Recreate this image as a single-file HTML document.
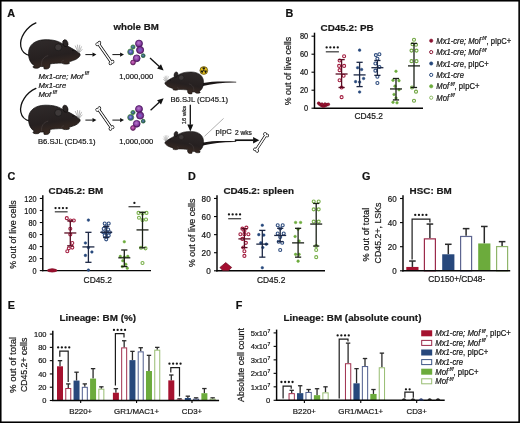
<!DOCTYPE html>
<html><head><meta charset="utf-8"><title>figure</title>
<style>
html,body{margin:0;padding:0;background:#fff;width:520px;height:423px;overflow:hidden;}
svg{display:block;font-family:"Liberation Sans",sans-serif;will-change:transform;}
svg text{stroke:#111;stroke-width:0.2px;}
</style></head>
<body>
<svg width="520" height="423" viewBox="0 0 520 423">
<rect width="520" height="423" fill="#fff"/>
<rect x="0.75" y="0.75" width="518.4" height="421.5" fill="none" stroke="#000" stroke-width="1.6"/>
<text x="7.3" y="16.9" font-size="10.8" text-anchor="start" font-weight="bold" fill="#111">A</text>
<text x="285.6" y="16.7" font-size="10.8" text-anchor="start" font-weight="bold" fill="#111">B</text>
<text x="7.4" y="180.3" font-size="10.8" text-anchor="start" font-weight="bold" fill="#111">C</text>
<text x="188" y="180.3" font-size="10.8" text-anchor="start" font-weight="bold" fill="#111">D</text>
<text x="362" y="180.3" font-size="10.8" text-anchor="start" font-weight="bold" fill="#111">G</text>
<text x="7.7" y="308.5" font-size="10.8" text-anchor="start" font-weight="bold" fill="#111">E</text>
<text x="235.8" y="308.5" font-size="10.8" text-anchor="start" font-weight="bold" fill="#111">F</text>
<text x="320.6" y="30.6" font-size="9.85" text-anchor="start" font-weight="bold" fill="#1a1a1a">CD45.2: PB</text>
<line x1="314.5" y1="108.8" x2="314.5" y2="32.7" stroke="#050505" stroke-width="1.45"/>
<line x1="311.5" y1="108.2" x2="314.5" y2="108.2" stroke="#050505" stroke-width="1.1"/>
<text transform="translate(308.2 111.4) scale(1 1.2)" font-size="7.4" text-anchor="end" fill="#1a1a1a">0</text>
<line x1="311.5" y1="90.2" x2="314.5" y2="90.2" stroke="#050505" stroke-width="1.1"/>
<text transform="translate(308.2 93.4) scale(1 1.2)" font-size="7.4" text-anchor="end" fill="#1a1a1a">20</text>
<line x1="311.5" y1="72.2" x2="314.5" y2="72.2" stroke="#050505" stroke-width="1.1"/>
<text transform="translate(308.2 75.4) scale(1 1.2)" font-size="7.4" text-anchor="end" fill="#1a1a1a">40</text>
<line x1="311.5" y1="54.2" x2="314.5" y2="54.2" stroke="#050505" stroke-width="1.1"/>
<text transform="translate(308.2 57.4) scale(1 1.2)" font-size="7.4" text-anchor="end" fill="#1a1a1a">60</text>
<line x1="311.5" y1="36.2" x2="314.5" y2="36.2" stroke="#050505" stroke-width="1.1"/>
<text transform="translate(308.2 39.4) scale(1 1.2)" font-size="7.4" text-anchor="end" fill="#1a1a1a">80</text>
<line x1="313.8" y1="108.2" x2="423" y2="108.2" stroke="#050505" stroke-width="1.4"/>
<text x="0" y="0" font-size="8.9" text-anchor="middle" fill="#1a1a1a" transform="translate(290.6 71) rotate(-90)">% out of live cells</text>
<text transform="translate(368.7 118.6) scale(1 1.05)" font-size="8.4" text-anchor="middle" fill="#1a1a1a">CD45.2</text>
<line x1="325.8" y1="51.8" x2="338.9" y2="51.8" stroke="#444" stroke-width="1.3"/>
<circle cx="326.65" cy="47.4" r="1.15" fill="#151515"/>
<circle cx="330.35" cy="47.4" r="1.15" fill="#151515"/>
<circle cx="334.05" cy="47.4" r="1.15" fill="#151515"/>
<circle cx="337.75" cy="47.4" r="1.15" fill="#151515"/>
<circle cx="318.7" cy="103.28" r="1.45" fill="#a01432" stroke="#6a0f24" stroke-width="0.5"/>
<circle cx="319.9" cy="104.36" r="1.45" fill="#a01432" stroke="#6a0f24" stroke-width="0.5"/>
<circle cx="321.3" cy="105.26" r="1.45" fill="#a01432" stroke="#6a0f24" stroke-width="0.5"/>
<circle cx="322.7" cy="105.98" r="1.45" fill="#a01432" stroke="#6a0f24" stroke-width="0.5"/>
<circle cx="324.1" cy="105.98" r="1.45" fill="#a01432" stroke="#6a0f24" stroke-width="0.5"/>
<circle cx="325.5" cy="105.44" r="1.45" fill="#a01432" stroke="#6a0f24" stroke-width="0.5"/>
<circle cx="326.9" cy="104.72" r="1.45" fill="#a01432" stroke="#6a0f24" stroke-width="0.5"/>
<circle cx="328.3" cy="104.36" r="1.45" fill="#a01432" stroke="#6a0f24" stroke-width="0.5"/>
<circle cx="322" cy="104.18" r="1.45" fill="#a01432" stroke="#6a0f24" stroke-width="0.5"/>
<circle cx="325" cy="104.09" r="1.45" fill="#a01432" stroke="#6a0f24" stroke-width="0.5"/>
<circle cx="344.1" cy="56.27" r="1.5" fill="#fff" stroke="#a31e40" stroke-width="1.1"/>
<circle cx="339.6" cy="60.5" r="1.5" fill="#fff" stroke="#a31e40" stroke-width="1.1"/>
<circle cx="339.1" cy="65.9" r="1.5" fill="#fff" stroke="#a31e40" stroke-width="1.1"/>
<circle cx="344.1" cy="65.9" r="1.5" fill="#fff" stroke="#a31e40" stroke-width="1.1"/>
<circle cx="339.6" cy="70.13" r="1.5" fill="#fff" stroke="#a31e40" stroke-width="1.1"/>
<circle cx="343.6" cy="75.8" r="1.5" fill="#fff" stroke="#a31e40" stroke-width="1.1"/>
<circle cx="339.6" cy="80.3" r="1.5" fill="#fff" stroke="#a31e40" stroke-width="1.1"/>
<circle cx="341.6" cy="87.5" r="1.5" fill="#fff" stroke="#a31e40" stroke-width="1.1"/>
<circle cx="341.6" cy="97.13" r="1.5" fill="#fff" stroke="#a31e40" stroke-width="1.1"/>
<line x1="341.6" y1="59.6" x2="341.6" y2="87.5" stroke="#5a0c22" stroke-width="1.3"/>
<line x1="338.5" y1="59.6" x2="344.7" y2="59.6" stroke="#5a0c22" stroke-width="1.3"/>
<line x1="338.5" y1="87.5" x2="344.7" y2="87.5" stroke="#5a0c22" stroke-width="1.3"/>
<line x1="335.6" y1="74" x2="347.6" y2="74" stroke="#5a0c22" stroke-width="1.3"/>
<circle cx="359.6" cy="50.15" r="1.3" fill="#27487c" stroke="#27487c" stroke-width="0.5"/>
<circle cx="357.6" cy="67.7" r="1.3" fill="#27487c" stroke="#27487c" stroke-width="0.5"/>
<circle cx="361.6" cy="69.5" r="1.3" fill="#27487c" stroke="#27487c" stroke-width="0.5"/>
<circle cx="363.6" cy="78.5" r="1.3" fill="#27487c" stroke="#27487c" stroke-width="0.5"/>
<circle cx="355.6" cy="81.65" r="1.3" fill="#27487c" stroke="#27487c" stroke-width="0.5"/>
<circle cx="359.6" cy="82.1" r="1.3" fill="#27487c" stroke="#27487c" stroke-width="0.5"/>
<circle cx="359.6" cy="92" r="1.3" fill="#27487c" stroke="#27487c" stroke-width="0.5"/>
<line x1="359.6" y1="62.3" x2="359.6" y2="86.6" stroke="#1c2744" stroke-width="1.3"/>
<line x1="356.5" y1="62.3" x2="362.7" y2="62.3" stroke="#1c2744" stroke-width="1.3"/>
<line x1="356.5" y1="86.6" x2="362.7" y2="86.6" stroke="#1c2744" stroke-width="1.3"/>
<line x1="353.6" y1="74.9" x2="365.6" y2="74.9" stroke="#1c2744" stroke-width="1.3"/>
<circle cx="375.9" cy="55.1" r="1.5" fill="#fff" stroke="#2f4d7f" stroke-width="1.1"/>
<circle cx="379.4" cy="54.2" r="1.5" fill="#fff" stroke="#2f4d7f" stroke-width="1.1"/>
<circle cx="377.4" cy="58.7" r="1.5" fill="#fff" stroke="#2f4d7f" stroke-width="1.1"/>
<circle cx="375.4" cy="63.47" r="1.5" fill="#fff" stroke="#2f4d7f" stroke-width="1.1"/>
<circle cx="379.4" cy="67.07" r="1.5" fill="#fff" stroke="#2f4d7f" stroke-width="1.1"/>
<circle cx="375.4" cy="70.67" r="1.5" fill="#fff" stroke="#2f4d7f" stroke-width="1.1"/>
<circle cx="377.4" cy="76.7" r="1.5" fill="#fff" stroke="#2f4d7f" stroke-width="1.1"/>
<circle cx="377.4" cy="83" r="1.5" fill="#fff" stroke="#2f4d7f" stroke-width="1.1"/>
<line x1="377.4" y1="60.5" x2="377.4" y2="75.35" stroke="#1c2744" stroke-width="1.3"/>
<line x1="374.3" y1="60.5" x2="380.5" y2="60.5" stroke="#1c2744" stroke-width="1.3"/>
<line x1="374.3" y1="75.35" x2="380.5" y2="75.35" stroke="#1c2744" stroke-width="1.3"/>
<line x1="371.4" y1="67.7" x2="383.4" y2="67.7" stroke="#1c2744" stroke-width="1.3"/>
<circle cx="396" cy="71.3" r="1.3" fill="#6cab3c" stroke="#6cab3c" stroke-width="0.5"/>
<circle cx="393" cy="80.3" r="1.3" fill="#6cab3c" stroke="#6cab3c" stroke-width="0.5"/>
<circle cx="399" cy="80.66" r="1.3" fill="#6cab3c" stroke="#6cab3c" stroke-width="0.5"/>
<circle cx="395" cy="86.15" r="1.3" fill="#6cab3c" stroke="#6cab3c" stroke-width="0.5"/>
<circle cx="399" cy="89.75" r="1.3" fill="#6cab3c" stroke="#6cab3c" stroke-width="0.5"/>
<circle cx="394" cy="94.43" r="1.3" fill="#6cab3c" stroke="#6cab3c" stroke-width="0.5"/>
<circle cx="396" cy="98.03" r="1.3" fill="#6cab3c" stroke="#6cab3c" stroke-width="0.5"/>
<circle cx="393" cy="102.26" r="1.3" fill="#6cab3c" stroke="#6cab3c" stroke-width="0.5"/>
<circle cx="397" cy="102.8" r="1.3" fill="#6cab3c" stroke="#6cab3c" stroke-width="0.5"/>
<line x1="396" y1="78.5" x2="396" y2="99.92" stroke="#1a2016" stroke-width="1.3"/>
<line x1="392.9" y1="78.5" x2="399.1" y2="78.5" stroke="#1a2016" stroke-width="1.3"/>
<line x1="392.9" y1="99.92" x2="399.1" y2="99.92" stroke="#1a2016" stroke-width="1.3"/>
<line x1="390" y1="88.94" x2="402" y2="88.94" stroke="#1a2016" stroke-width="1.3"/>
<circle cx="414" cy="39.8" r="1.5" fill="#fff" stroke="#6fa540" stroke-width="1.1"/>
<circle cx="412.5" cy="44.3" r="1.5" fill="#fff" stroke="#6fa540" stroke-width="1.1"/>
<circle cx="416" cy="44.75" r="1.5" fill="#fff" stroke="#6fa540" stroke-width="1.1"/>
<circle cx="411.5" cy="50.6" r="1.5" fill="#fff" stroke="#6fa540" stroke-width="1.1"/>
<circle cx="416.5" cy="50.6" r="1.5" fill="#fff" stroke="#6fa540" stroke-width="1.1"/>
<circle cx="411.5" cy="61.13" r="1.5" fill="#fff" stroke="#6fa540" stroke-width="1.1"/>
<circle cx="416.5" cy="61.13" r="1.5" fill="#fff" stroke="#6fa540" stroke-width="1.1"/>
<circle cx="412" cy="87.5" r="1.5" fill="#fff" stroke="#6fa540" stroke-width="1.1"/>
<circle cx="416" cy="91.64" r="1.5" fill="#fff" stroke="#6fa540" stroke-width="1.1"/>
<circle cx="414" cy="100.82" r="1.5" fill="#fff" stroke="#6fa540" stroke-width="1.1"/>
<line x1="414" y1="43.4" x2="414" y2="87.5" stroke="#1a2016" stroke-width="1.3"/>
<line x1="410.9" y1="43.4" x2="417.1" y2="43.4" stroke="#1a2016" stroke-width="1.3"/>
<line x1="410.9" y1="87.5" x2="417.1" y2="87.5" stroke="#1a2016" stroke-width="1.3"/>
<line x1="408" y1="65.9" x2="420" y2="65.9" stroke="#1a2016" stroke-width="1.3"/>
<circle cx="431.2" cy="40.7" r="1.7" fill="#8a1533" stroke="#8a1533" stroke-width="0.5"/>
<text transform="translate(436.3 43.8) scale(1 1.12)" font-size="7.65" fill="#1a1a1a"><tspan font-style="italic">Mx1-cre; Mof</tspan><tspan font-style="italic" font-size="5" dy="-3.2" dx="1.4">f/f</tspan><tspan dy="3.2">, pIpC+</tspan></text>
<circle cx="431.2" cy="52.1" r="1.6" fill="#fff" stroke="#8a1533" stroke-width="1"/>
<text transform="translate(436.3 55.2) scale(1 1.12)" font-size="7.65" fill="#1a1a1a"><tspan font-style="italic">Mx1-cre; Mof</tspan><tspan font-style="italic" font-size="5" dy="-3.2" dx="1.4">f/f</tspan></text>
<circle cx="431.2" cy="63.5" r="1.7" fill="#27487c" stroke="#27487c" stroke-width="0.5"/>
<text transform="translate(436.3 66.6) scale(1 1.12)" font-size="7.65" fill="#1a1a1a"><tspan font-style="italic">Mx1-cre</tspan>, pIpC+</text>
<circle cx="431.2" cy="74.9" r="1.6" fill="#fff" stroke="#27487c" stroke-width="1"/>
<text transform="translate(436.3 78) scale(1 1.12)" font-size="7.65" fill="#1a1a1a"><tspan font-style="italic">Mx1-cre</tspan></text>
<circle cx="431.2" cy="86.3" r="1.7" fill="#6cab3c" stroke="#6cab3c" stroke-width="0.5"/>
<text transform="translate(436.3 89.4) scale(1 1.12)" font-size="7.65" fill="#1a1a1a"><tspan font-style="italic">Mof</tspan><tspan font-style="italic" font-size="5" dy="-3.2" dx="1.4">f/f</tspan><tspan dy="3.2">, pIpC+</tspan></text>
<circle cx="431.2" cy="97.7" r="1.6" fill="#fff" stroke="#8dbb64" stroke-width="1"/>
<text transform="translate(436.3 100.8) scale(1 1.12)" font-size="7.65" fill="#1a1a1a"><tspan font-style="italic">Mof</tspan><tspan font-style="italic" font-size="5" dy="-3.2" dx="1.4">f/f</tspan></text>
<text x="48.6" y="193.6" font-size="9.85" text-anchor="start" font-weight="bold" fill="#1a1a1a">CD45.2: BM</text>
<line x1="42.8" y1="271.2" x2="42.8" y2="195.2" stroke="#050505" stroke-width="1.45"/>
<line x1="39.8" y1="270.6" x2="42.8" y2="270.6" stroke="#050505" stroke-width="1.1"/>
<text transform="translate(36.5 273.62) scale(1 1.15)" font-size="7.3" text-anchor="end" fill="#1a1a1a">0</text>
<line x1="39.8" y1="258.58" x2="42.8" y2="258.58" stroke="#050505" stroke-width="1.1"/>
<text transform="translate(36.5 261.6) scale(1 1.15)" font-size="7.3" text-anchor="end" fill="#1a1a1a">20</text>
<line x1="39.8" y1="246.56" x2="42.8" y2="246.56" stroke="#050505" stroke-width="1.1"/>
<text transform="translate(36.5 249.58) scale(1 1.15)" font-size="7.3" text-anchor="end" fill="#1a1a1a">40</text>
<line x1="39.8" y1="234.54" x2="42.8" y2="234.54" stroke="#050505" stroke-width="1.1"/>
<text transform="translate(36.5 237.56) scale(1 1.15)" font-size="7.3" text-anchor="end" fill="#1a1a1a">60</text>
<line x1="39.8" y1="222.52" x2="42.8" y2="222.52" stroke="#050505" stroke-width="1.1"/>
<text transform="translate(36.5 225.54) scale(1 1.15)" font-size="7.3" text-anchor="end" fill="#1a1a1a">80</text>
<line x1="39.8" y1="210.5" x2="42.8" y2="210.5" stroke="#050505" stroke-width="1.1"/>
<text transform="translate(36.5 213.52) scale(1 1.15)" font-size="7.3" text-anchor="end" fill="#1a1a1a">100</text>
<line x1="39.8" y1="198.48" x2="42.8" y2="198.48" stroke="#050505" stroke-width="1.1"/>
<text transform="translate(36.5 201.5) scale(1 1.15)" font-size="7.3" text-anchor="end" fill="#1a1a1a">120</text>
<line x1="42.1" y1="270.6" x2="151" y2="270.6" stroke="#050505" stroke-width="1.4"/>
<text x="0" y="0" font-size="8.9" text-anchor="middle" fill="#1a1a1a" transform="translate(15.6 234.5) rotate(-90)">% out of live cells</text>
<text transform="translate(97.8 282.6) scale(1 1.12)" font-size="8.4" text-anchor="middle" fill="#1a1a1a">CD45.2</text>
<line x1="54.8" y1="211.8" x2="67.6" y2="211.8" stroke="#444" stroke-width="1.3"/>
<circle cx="55.55" cy="208.1" r="1.15" fill="#151515"/>
<circle cx="59.25" cy="208.1" r="1.15" fill="#151515"/>
<circle cx="62.95" cy="208.1" r="1.15" fill="#151515"/>
<circle cx="66.65" cy="208.1" r="1.15" fill="#151515"/>
<line x1="128.5" y1="206.7" x2="140.3" y2="206.7" stroke="#444" stroke-width="1.3"/>
<circle cx="134.4" cy="202.9" r="1.15" fill="#151515"/>
<circle cx="48.4" cy="270.4" r="1" fill="#a50f30" stroke="#7a0f26" stroke-width="0.4"/>
<circle cx="49.6" cy="270.4" r="1.4" fill="#a50f30" stroke="#7a0f26" stroke-width="0.4"/>
<circle cx="50.9" cy="270.4" r="1.7" fill="#a50f30" stroke="#7a0f26" stroke-width="0.4"/>
<circle cx="52.2" cy="270.4" r="1.8" fill="#a50f30" stroke="#7a0f26" stroke-width="0.4"/>
<circle cx="53.5" cy="270.4" r="1.7" fill="#a50f30" stroke="#7a0f26" stroke-width="0.4"/>
<circle cx="54.8" cy="270.4" r="1.4" fill="#a50f30" stroke="#7a0f26" stroke-width="0.4"/>
<circle cx="56" cy="270.4" r="1" fill="#a50f30" stroke="#7a0f26" stroke-width="0.4"/>
<circle cx="66.8" cy="218.13" r="1.5" fill="#fff" stroke="#a31e40" stroke-width="1.1"/>
<circle cx="70.3" cy="220.48" r="1.5" fill="#fff" stroke="#a31e40" stroke-width="1.1"/>
<circle cx="73.8" cy="220.48" r="1.5" fill="#fff" stroke="#a31e40" stroke-width="1.1"/>
<circle cx="70.3" cy="228.71" r="1.5" fill="#fff" stroke="#a31e40" stroke-width="1.1"/>
<circle cx="70.3" cy="234.54" r="1.5" fill="#fff" stroke="#a31e40" stroke-width="1.1"/>
<circle cx="72.3" cy="242.95" r="1.5" fill="#fff" stroke="#a31e40" stroke-width="1.1"/>
<circle cx="72.3" cy="247.58" r="1.5" fill="#fff" stroke="#a31e40" stroke-width="1.1"/>
<circle cx="68.8" cy="248.36" r="1.5" fill="#fff" stroke="#a31e40" stroke-width="1.1"/>
<circle cx="67.3" cy="251.19" r="1.5" fill="#fff" stroke="#a31e40" stroke-width="1.1"/>
<line x1="70.3" y1="220.9" x2="70.3" y2="245.78" stroke="#5a0c22" stroke-width="1.3"/>
<line x1="67.2" y1="220.9" x2="73.4" y2="220.9" stroke="#5a0c22" stroke-width="1.3"/>
<line x1="67.2" y1="245.78" x2="73.4" y2="245.78" stroke="#5a0c22" stroke-width="1.3"/>
<line x1="64.3" y1="232.98" x2="76.3" y2="232.98" stroke="#5a0c22" stroke-width="1.3"/>
<circle cx="88.4" cy="220.12" r="1.3" fill="#27487c" stroke="#27487c" stroke-width="0.5"/>
<circle cx="85.4" cy="242.95" r="1.3" fill="#27487c" stroke="#27487c" stroke-width="0.5"/>
<circle cx="88.4" cy="247.58" r="1.3" fill="#27487c" stroke="#27487c" stroke-width="0.5"/>
<circle cx="91.9" cy="251.97" r="1.3" fill="#27487c" stroke="#27487c" stroke-width="0.5"/>
<circle cx="85.4" cy="255.39" r="1.3" fill="#27487c" stroke="#27487c" stroke-width="0.5"/>
<circle cx="88.4" cy="270.12" r="1.3" fill="#27487c" stroke="#27487c" stroke-width="0.5"/>
<line x1="88.4" y1="232.32" x2="88.4" y2="262.31" stroke="#1c2744" stroke-width="1.3"/>
<line x1="85.3" y1="232.32" x2="91.5" y2="232.32" stroke="#1c2744" stroke-width="1.3"/>
<line x1="85.3" y1="262.31" x2="91.5" y2="262.31" stroke="#1c2744" stroke-width="1.3"/>
<line x1="82.4" y1="246.92" x2="94.4" y2="246.92" stroke="#1c2744" stroke-width="1.3"/>
<circle cx="104.7" cy="223.48" r="1.5" fill="#fff" stroke="#2f4d7f" stroke-width="1.1"/>
<circle cx="108.7" cy="223.48" r="1.5" fill="#fff" stroke="#2f4d7f" stroke-width="1.1"/>
<circle cx="106.2" cy="226.43" r="1.5" fill="#fff" stroke="#2f4d7f" stroke-width="1.1"/>
<circle cx="103.7" cy="228.71" r="1.5" fill="#fff" stroke="#2f4d7f" stroke-width="1.1"/>
<circle cx="108.2" cy="229.43" r="1.5" fill="#fff" stroke="#2f4d7f" stroke-width="1.1"/>
<circle cx="103.2" cy="232.32" r="1.5" fill="#fff" stroke="#2f4d7f" stroke-width="1.1"/>
<circle cx="106.2" cy="232.32" r="1.5" fill="#fff" stroke="#2f4d7f" stroke-width="1.1"/>
<circle cx="109.7" cy="232.32" r="1.5" fill="#fff" stroke="#2f4d7f" stroke-width="1.1"/>
<circle cx="104.7" cy="235.38" r="1.5" fill="#fff" stroke="#2f4d7f" stroke-width="1.1"/>
<circle cx="108.7" cy="235.38" r="1.5" fill="#fff" stroke="#2f4d7f" stroke-width="1.1"/>
<circle cx="106.2" cy="239.35" r="1.5" fill="#fff" stroke="#2f4d7f" stroke-width="1.1"/>
<line x1="106.2" y1="226.43" x2="106.2" y2="237.55" stroke="#1c2744" stroke-width="1.3"/>
<line x1="103.1" y1="226.43" x2="109.3" y2="226.43" stroke="#1c2744" stroke-width="1.3"/>
<line x1="103.1" y1="237.55" x2="109.3" y2="237.55" stroke="#1c2744" stroke-width="1.3"/>
<line x1="100.2" y1="232.32" x2="112.2" y2="232.32" stroke="#1c2744" stroke-width="1.3"/>
<circle cx="124.3" cy="241.75" r="1.3" fill="#6cab3c" stroke="#6cab3c" stroke-width="0.5"/>
<circle cx="120.3" cy="256.42" r="1.3" fill="#6cab3c" stroke="#6cab3c" stroke-width="0.5"/>
<circle cx="124.3" cy="257.08" r="1.3" fill="#6cab3c" stroke="#6cab3c" stroke-width="0.5"/>
<circle cx="127.8" cy="256.42" r="1.3" fill="#6cab3c" stroke="#6cab3c" stroke-width="0.5"/>
<circle cx="122.8" cy="260.68" r="1.3" fill="#6cab3c" stroke="#6cab3c" stroke-width="0.5"/>
<circle cx="125.8" cy="264.23" r="1.3" fill="#6cab3c" stroke="#6cab3c" stroke-width="0.5"/>
<circle cx="122.3" cy="266.57" r="1.3" fill="#6cab3c" stroke="#6cab3c" stroke-width="0.5"/>
<circle cx="127.3" cy="268.2" r="1.3" fill="#6cab3c" stroke="#6cab3c" stroke-width="0.5"/>
<line x1="124.3" y1="249.99" x2="124.3" y2="266.57" stroke="#1a2016" stroke-width="1.3"/>
<line x1="121.2" y1="249.99" x2="127.4" y2="249.99" stroke="#1a2016" stroke-width="1.3"/>
<line x1="121.2" y1="266.57" x2="127.4" y2="266.57" stroke="#1a2016" stroke-width="1.3"/>
<line x1="118.3" y1="257.8" x2="130.3" y2="257.8" stroke="#1a2016" stroke-width="1.3"/>
<circle cx="138.5" cy="212.9" r="1.5" fill="#fff" stroke="#79b04a" stroke-width="1.1"/>
<circle cx="142.5" cy="213.51" r="1.5" fill="#fff" stroke="#79b04a" stroke-width="1.1"/>
<circle cx="146.5" cy="212.9" r="1.5" fill="#fff" stroke="#79b04a" stroke-width="1.1"/>
<circle cx="139" cy="217.71" r="1.5" fill="#fff" stroke="#79b04a" stroke-width="1.1"/>
<circle cx="142.5" cy="220.12" r="1.5" fill="#fff" stroke="#79b04a" stroke-width="1.1"/>
<circle cx="146" cy="219.52" r="1.5" fill="#fff" stroke="#79b04a" stroke-width="1.1"/>
<circle cx="141" cy="247.76" r="1.5" fill="#fff" stroke="#79b04a" stroke-width="1.1"/>
<circle cx="145.5" cy="248.36" r="1.5" fill="#fff" stroke="#79b04a" stroke-width="1.1"/>
<circle cx="142.5" cy="263.03" r="1.5" fill="#fff" stroke="#79b04a" stroke-width="1.1"/>
<line x1="142.5" y1="212.3" x2="142.5" y2="247.76" stroke="#1a2016" stroke-width="1.3"/>
<line x1="139.4" y1="212.3" x2="145.6" y2="212.3" stroke="#1a2016" stroke-width="1.3"/>
<line x1="139.4" y1="247.76" x2="145.6" y2="247.76" stroke="#1a2016" stroke-width="1.3"/>
<line x1="136.5" y1="229.91" x2="148.5" y2="229.91" stroke="#1a2016" stroke-width="1.3"/>
<text x="223.4" y="193.6" font-size="9.85" text-anchor="start" font-weight="bold" fill="#1a1a1a">CD45.2: spleen</text>
<line x1="217" y1="271.4" x2="217" y2="195.2" stroke="#050505" stroke-width="1.45"/>
<line x1="214" y1="270.8" x2="217" y2="270.8" stroke="#050505" stroke-width="1.1"/>
<text transform="translate(210.7 274.19) scale(1 1.15)" font-size="8.2" text-anchor="end" fill="#1a1a1a">0</text>
<line x1="214" y1="252.72" x2="217" y2="252.72" stroke="#050505" stroke-width="1.1"/>
<text transform="translate(210.7 256.11) scale(1 1.15)" font-size="8.2" text-anchor="end" fill="#1a1a1a">20</text>
<line x1="214" y1="234.64" x2="217" y2="234.64" stroke="#050505" stroke-width="1.1"/>
<text transform="translate(210.7 238.03) scale(1 1.15)" font-size="8.2" text-anchor="end" fill="#1a1a1a">40</text>
<line x1="214" y1="216.56" x2="217" y2="216.56" stroke="#050505" stroke-width="1.1"/>
<text transform="translate(210.7 219.95) scale(1 1.15)" font-size="8.2" text-anchor="end" fill="#1a1a1a">60</text>
<line x1="214" y1="198.48" x2="217" y2="198.48" stroke="#050505" stroke-width="1.1"/>
<text transform="translate(210.7 201.87) scale(1 1.15)" font-size="8.2" text-anchor="end" fill="#1a1a1a">80</text>
<line x1="216.3" y1="270.8" x2="325" y2="270.8" stroke="#050505" stroke-width="1.4"/>
<text x="0" y="0" font-size="8.9" text-anchor="middle" fill="#1a1a1a" transform="translate(194.6 232.8) rotate(-90)">% out of live cells</text>
<text transform="translate(271.1 282.6) scale(1 1.12)" font-size="8.4" text-anchor="middle" fill="#1a1a1a">CD45.2</text>
<line x1="228.2" y1="218.7" x2="241.1" y2="218.7" stroke="#444" stroke-width="1.3"/>
<circle cx="228.95" cy="214.4" r="1.15" fill="#151515"/>
<circle cx="232.65" cy="214.4" r="1.15" fill="#151515"/>
<circle cx="236.35" cy="214.4" r="1.15" fill="#151515"/>
<circle cx="240.05" cy="214.4" r="1.15" fill="#151515"/>
<path d="M225.7,262.6 L231.7,267.4 L228.6,270.6 L222.8,270.6 L219.9,267.5 Z" fill="#a50f30" stroke="#6a0f24" stroke-width="0.7" stroke-linejoin="round"/>
<circle cx="242.4" cy="228.67" r="1.5" fill="#fff" stroke="#a31e40" stroke-width="1.1"/>
<circle cx="246.4" cy="227.59" r="1.5" fill="#fff" stroke="#a31e40" stroke-width="1.1"/>
<circle cx="244.4" cy="231.11" r="1.5" fill="#fff" stroke="#a31e40" stroke-width="1.1"/>
<circle cx="240.4" cy="234.19" r="1.5" fill="#fff" stroke="#a31e40" stroke-width="1.1"/>
<circle cx="244.4" cy="234.19" r="1.5" fill="#fff" stroke="#a31e40" stroke-width="1.1"/>
<circle cx="248.4" cy="234.19" r="1.5" fill="#fff" stroke="#a31e40" stroke-width="1.1"/>
<circle cx="242.4" cy="238.89" r="1.5" fill="#fff" stroke="#a31e40" stroke-width="1.1"/>
<circle cx="245.9" cy="242.87" r="1.5" fill="#fff" stroke="#a31e40" stroke-width="1.1"/>
<circle cx="243.4" cy="247.57" r="1.5" fill="#fff" stroke="#a31e40" stroke-width="1.1"/>
<circle cx="244.4" cy="251.18" r="1.5" fill="#fff" stroke="#a31e40" stroke-width="1.1"/>
<circle cx="244.4" cy="255.88" r="1.5" fill="#fff" stroke="#a31e40" stroke-width="1.1"/>
<line x1="244.4" y1="228.67" x2="244.4" y2="247.57" stroke="#5a0c22" stroke-width="1.3"/>
<line x1="241.3" y1="228.67" x2="247.5" y2="228.67" stroke="#5a0c22" stroke-width="1.3"/>
<line x1="241.3" y1="247.57" x2="247.5" y2="247.57" stroke="#5a0c22" stroke-width="1.3"/>
<line x1="238.4" y1="238.89" x2="250.4" y2="238.89" stroke="#5a0c22" stroke-width="1.3"/>
<circle cx="262.3" cy="225.24" r="1.3" fill="#27487c" stroke="#27487c" stroke-width="0.5"/>
<circle cx="258.8" cy="234.64" r="1.3" fill="#27487c" stroke="#27487c" stroke-width="0.5"/>
<circle cx="263.8" cy="235.09" r="1.3" fill="#27487c" stroke="#27487c" stroke-width="0.5"/>
<circle cx="260.8" cy="242.87" r="1.3" fill="#27487c" stroke="#27487c" stroke-width="0.5"/>
<circle cx="266.3" cy="244.13" r="1.3" fill="#27487c" stroke="#27487c" stroke-width="0.5"/>
<circle cx="262.8" cy="247.57" r="1.3" fill="#27487c" stroke="#27487c" stroke-width="0.5"/>
<circle cx="262.3" cy="267.73" r="1.3" fill="#27487c" stroke="#27487c" stroke-width="0.5"/>
<line x1="262.3" y1="230.39" x2="262.3" y2="257.15" stroke="#1c2744" stroke-width="1.3"/>
<line x1="259.2" y1="230.39" x2="265.4" y2="230.39" stroke="#1c2744" stroke-width="1.3"/>
<line x1="259.2" y1="257.15" x2="265.4" y2="257.15" stroke="#1c2744" stroke-width="1.3"/>
<line x1="256.3" y1="244.13" x2="268.3" y2="244.13" stroke="#1c2744" stroke-width="1.3"/>
<circle cx="277.7" cy="225.24" r="1.5" fill="#fff" stroke="#2f4d7f" stroke-width="1.1"/>
<circle cx="282.7" cy="225.24" r="1.5" fill="#fff" stroke="#2f4d7f" stroke-width="1.1"/>
<circle cx="280.2" cy="228.49" r="1.5" fill="#fff" stroke="#2f4d7f" stroke-width="1.1"/>
<circle cx="277.7" cy="233.46" r="1.5" fill="#fff" stroke="#2f4d7f" stroke-width="1.1"/>
<circle cx="283.7" cy="233.46" r="1.5" fill="#fff" stroke="#2f4d7f" stroke-width="1.1"/>
<circle cx="280.2" cy="236.99" r="1.5" fill="#fff" stroke="#2f4d7f" stroke-width="1.1"/>
<circle cx="278.7" cy="241.69" r="1.5" fill="#fff" stroke="#2f4d7f" stroke-width="1.1"/>
<circle cx="282.2" cy="242.78" r="1.5" fill="#fff" stroke="#2f4d7f" stroke-width="1.1"/>
<circle cx="280.2" cy="250.01" r="1.5" fill="#fff" stroke="#2f4d7f" stroke-width="1.1"/>
<line x1="280.2" y1="228.31" x2="280.2" y2="241.69" stroke="#1c2744" stroke-width="1.3"/>
<line x1="277.1" y1="228.31" x2="283.3" y2="228.31" stroke="#1c2744" stroke-width="1.3"/>
<line x1="277.1" y1="241.69" x2="283.3" y2="241.69" stroke="#1c2744" stroke-width="1.3"/>
<line x1="274.2" y1="235.45" x2="286.2" y2="235.45" stroke="#1c2744" stroke-width="1.3"/>
<circle cx="295.6" cy="222.44" r="1.3" fill="#6cab3c" stroke="#6cab3c" stroke-width="0.5"/>
<circle cx="300.6" cy="222.44" r="1.3" fill="#6cab3c" stroke="#6cab3c" stroke-width="0.5"/>
<circle cx="298.1" cy="229.22" r="1.3" fill="#6cab3c" stroke="#6cab3c" stroke-width="0.5"/>
<circle cx="295.1" cy="236.45" r="1.3" fill="#6cab3c" stroke="#6cab3c" stroke-width="0.5"/>
<circle cx="299.1" cy="240.97" r="1.3" fill="#6cab3c" stroke="#6cab3c" stroke-width="0.5"/>
<circle cx="295.6" cy="254.35" r="1.3" fill="#6cab3c" stroke="#6cab3c" stroke-width="0.5"/>
<circle cx="299.1" cy="254.35" r="1.3" fill="#6cab3c" stroke="#6cab3c" stroke-width="0.5"/>
<circle cx="298.1" cy="261.13" r="1.3" fill="#6cab3c" stroke="#6cab3c" stroke-width="0.5"/>
<line x1="298.1" y1="228.31" x2="298.1" y2="257.15" stroke="#1a2016" stroke-width="1.3"/>
<line x1="295" y1="228.31" x2="301.2" y2="228.31" stroke="#1a2016" stroke-width="1.3"/>
<line x1="295" y1="257.15" x2="301.2" y2="257.15" stroke="#1a2016" stroke-width="1.3"/>
<line x1="292.1" y1="242.87" x2="304.1" y2="242.87" stroke="#1a2016" stroke-width="1.3"/>
<circle cx="313.7" cy="201.55" r="1.5" fill="#fff" stroke="#79b04a" stroke-width="1.1"/>
<circle cx="318.7" cy="201.55" r="1.5" fill="#fff" stroke="#79b04a" stroke-width="1.1"/>
<circle cx="313.7" cy="209.33" r="1.5" fill="#fff" stroke="#79b04a" stroke-width="1.1"/>
<circle cx="318.7" cy="209.33" r="1.5" fill="#fff" stroke="#79b04a" stroke-width="1.1"/>
<circle cx="313.7" cy="221.62" r="1.5" fill="#fff" stroke="#79b04a" stroke-width="1.1"/>
<circle cx="318.7" cy="221.62" r="1.5" fill="#fff" stroke="#79b04a" stroke-width="1.1"/>
<circle cx="316.2" cy="246.03" r="1.5" fill="#fff" stroke="#79b04a" stroke-width="1.1"/>
<circle cx="316.2" cy="250.01" r="1.5" fill="#fff" stroke="#79b04a" stroke-width="1.1"/>
<circle cx="316.2" cy="257.15" r="1.5" fill="#fff" stroke="#79b04a" stroke-width="1.1"/>
<line x1="316.2" y1="203.45" x2="316.2" y2="246.03" stroke="#1a2016" stroke-width="1.3"/>
<line x1="313.1" y1="203.45" x2="319.3" y2="203.45" stroke="#1a2016" stroke-width="1.3"/>
<line x1="313.1" y1="246.03" x2="319.3" y2="246.03" stroke="#1a2016" stroke-width="1.3"/>
<line x1="310.2" y1="224.06" x2="322.2" y2="224.06" stroke="#1a2016" stroke-width="1.3"/>
<text x="409.6" y="194" font-size="9.85" text-anchor="start" font-weight="bold" fill="#1a1a1a">HSC: BM</text>
<line x1="403" y1="271.4" x2="403" y2="195.2" stroke="#050505" stroke-width="1.45"/>
<line x1="400" y1="270.8" x2="403" y2="270.8" stroke="#050505" stroke-width="1.1"/>
<text transform="translate(396.7 274.11) scale(1 1.15)" font-size="8" text-anchor="end" fill="#1a1a1a">0</text>
<line x1="400" y1="246.7" x2="403" y2="246.7" stroke="#050505" stroke-width="1.1"/>
<text transform="translate(396.7 250.01) scale(1 1.15)" font-size="8" text-anchor="end" fill="#1a1a1a">20</text>
<line x1="400" y1="222.6" x2="403" y2="222.6" stroke="#050505" stroke-width="1.1"/>
<text transform="translate(396.7 225.91) scale(1 1.15)" font-size="8" text-anchor="end" fill="#1a1a1a">40</text>
<line x1="400" y1="198.5" x2="403" y2="198.5" stroke="#050505" stroke-width="1.1"/>
<text transform="translate(396.7 201.81) scale(1 1.15)" font-size="8" text-anchor="end" fill="#1a1a1a">60</text>
<text x="0" y="0" font-size="9.2" text-anchor="middle" fill="#1a1a1a" transform="translate(369.3 234.6) rotate(-90)">% out of total</text>
<text x="0" y="0" font-size="8.8" text-anchor="middle" fill="#1a1a1a" transform="translate(380.6 233) rotate(-90)">CD45.2+, LSKs</text>
<text transform="translate(456.8 282.3) scale(1 1.18)" font-size="8.3" text-anchor="middle" fill="#1a1a1a">CD150+/CD48-</text>
<line x1="412.4" y1="266.94" x2="412.4" y2="261.04" stroke="#2a2a2a" stroke-width="1.5"/>
<line x1="409.1" y1="261.04" x2="415.7" y2="261.04" stroke="#2a2a2a" stroke-width="1.5"/>
<rect x="406.3" y="266.94" width="12.2" height="3.86" fill="#a5122f"/>
<line x1="429.9" y1="238.27" x2="429.9" y2="224.05" stroke="#2a2a2a" stroke-width="1.5"/>
<line x1="426.6" y1="224.05" x2="433.2" y2="224.05" stroke="#2a2a2a" stroke-width="1.5"/>
<rect x="424.4" y="238.87" width="11" height="31.93" fill="#fff" stroke="#9b2a4a" stroke-width="1.2"/>
<line x1="448.3" y1="254.29" x2="448.3" y2="244.29" stroke="#2a2a2a" stroke-width="1.5"/>
<line x1="445" y1="244.29" x2="451.6" y2="244.29" stroke="#2a2a2a" stroke-width="1.5"/>
<rect x="442.2" y="254.29" width="12.2" height="16.51" fill="#27487c"/>
<line x1="466.1" y1="235.86" x2="466.1" y2="228.62" stroke="#2a2a2a" stroke-width="1.5"/>
<line x1="462.8" y1="228.62" x2="469.4" y2="228.62" stroke="#2a2a2a" stroke-width="1.5"/>
<rect x="460.6" y="236.46" width="11" height="34.34" fill="#fff" stroke="#5d6590" stroke-width="1.2"/>
<line x1="484.3" y1="243.45" x2="484.3" y2="226.46" stroke="#2a2a2a" stroke-width="1.5"/>
<line x1="481" y1="226.46" x2="487.6" y2="226.46" stroke="#2a2a2a" stroke-width="1.5"/>
<rect x="478.2" y="243.45" width="12.2" height="27.35" fill="#6cab3c"/>
<line x1="502.1" y1="245.98" x2="502.1" y2="241.64" stroke="#2a2a2a" stroke-width="1.5"/>
<line x1="498.8" y1="241.64" x2="505.4" y2="241.64" stroke="#2a2a2a" stroke-width="1.5"/>
<rect x="496.6" y="246.58" width="11" height="24.22" fill="#fff" stroke="#8fb56a" stroke-width="1.2"/>
<line x1="402.3" y1="270.8" x2="510.2" y2="270.8" stroke="#050505" stroke-width="1.4"/>
<polyline points="412.1,259.5 412.1,219.1 429.9,219.1 429.9,222.4" fill="none" stroke="#1c1c1c" stroke-width="1.2"/>
<circle cx="415.25" cy="214.9" r="1.15" fill="#151515"/>
<circle cx="418.95" cy="214.9" r="1.15" fill="#151515"/>
<circle cx="422.65" cy="214.9" r="1.15" fill="#151515"/>
<circle cx="426.35" cy="214.9" r="1.15" fill="#151515"/>
<text x="59.4" y="321.4" font-size="9.85" text-anchor="start" font-weight="bold" fill="#1a1a1a">Lineage: BM (%)</text>
<line x1="52.8" y1="401.1" x2="52.8" y2="330.8" stroke="#050505" stroke-width="1.45"/>
<line x1="49.8" y1="400.5" x2="52.8" y2="400.5" stroke="#050505" stroke-width="1.1"/>
<text transform="translate(46.5 403.33) scale(1 1.05)" font-size="7.5" text-anchor="end" fill="#1a1a1a">0</text>
<line x1="49.8" y1="387.22" x2="52.8" y2="387.22" stroke="#050505" stroke-width="1.1"/>
<text transform="translate(46.5 390.06) scale(1 1.05)" font-size="7.5" text-anchor="end" fill="#1a1a1a">20</text>
<line x1="49.8" y1="373.94" x2="52.8" y2="373.94" stroke="#050505" stroke-width="1.1"/>
<text transform="translate(46.5 376.77) scale(1 1.05)" font-size="7.5" text-anchor="end" fill="#1a1a1a">40</text>
<line x1="49.8" y1="360.66" x2="52.8" y2="360.66" stroke="#050505" stroke-width="1.1"/>
<text transform="translate(46.5 363.49) scale(1 1.05)" font-size="7.5" text-anchor="end" fill="#1a1a1a">60</text>
<line x1="49.8" y1="347.38" x2="52.8" y2="347.38" stroke="#050505" stroke-width="1.1"/>
<text transform="translate(46.5 350.21) scale(1 1.05)" font-size="7.5" text-anchor="end" fill="#1a1a1a">80</text>
<line x1="49.8" y1="334.1" x2="52.8" y2="334.1" stroke="#050505" stroke-width="1.1"/>
<text transform="translate(46.5 336.94) scale(1 1.05)" font-size="7.5" text-anchor="end" fill="#1a1a1a">100</text>
<text x="0" y="0" font-size="9.6" text-anchor="middle" fill="#1a1a1a" transform="translate(15.9 364.9) rotate(-90)">% out of total</text>
<text x="0" y="0" font-size="8.7" text-anchor="middle" fill="#1a1a1a" transform="translate(26.5 364.9) rotate(-90)">CD45.2+ cells</text>
<line x1="60" y1="366.3" x2="60" y2="360.66" stroke="#2a2a2a" stroke-width="1.3"/>
<line x1="57.8" y1="360.66" x2="62.2" y2="360.66" stroke="#2a2a2a" stroke-width="1.3"/>
<rect x="57" y="366.3" width="6" height="34.2" fill="#a5122f"/>
<line x1="68.27" y1="388.02" x2="68.27" y2="383.9" stroke="#2a2a2a" stroke-width="1.3"/>
<line x1="66.07" y1="383.9" x2="70.47" y2="383.9" stroke="#2a2a2a" stroke-width="1.3"/>
<rect x="65.77" y="388.52" width="5" height="11.98" fill="#fff" stroke="#a0304e" stroke-width="1"/>
<line x1="76.54" y1="380.58" x2="76.54" y2="372.21" stroke="#2a2a2a" stroke-width="1.3"/>
<line x1="74.34" y1="372.21" x2="78.74" y2="372.21" stroke="#2a2a2a" stroke-width="1.3"/>
<rect x="73.54" y="380.58" width="6" height="19.92" fill="#27487c"/>
<line x1="84.81" y1="386.82" x2="84.81" y2="383.9" stroke="#2a2a2a" stroke-width="1.3"/>
<line x1="82.61" y1="383.9" x2="87.01" y2="383.9" stroke="#2a2a2a" stroke-width="1.3"/>
<rect x="82.31" y="387.32" width="5" height="13.18" fill="#fff" stroke="#4f5d8e" stroke-width="1"/>
<line x1="93.08" y1="378.59" x2="93.08" y2="368.63" stroke="#2a2a2a" stroke-width="1.3"/>
<line x1="90.88" y1="368.63" x2="95.28" y2="368.63" stroke="#2a2a2a" stroke-width="1.3"/>
<rect x="90.08" y="378.59" width="6" height="21.91" fill="#6cab3c"/>
<line x1="101.35" y1="388.68" x2="101.35" y2="386.82" stroke="#2a2a2a" stroke-width="1.3"/>
<line x1="99.15" y1="386.82" x2="103.55" y2="386.82" stroke="#2a2a2a" stroke-width="1.3"/>
<rect x="98.85" y="389.18" width="5" height="11.32" fill="#fff" stroke="#98bd72" stroke-width="1"/>
<line x1="80.67" y1="400.5" x2="80.67" y2="403.1" stroke="#050505" stroke-width="1.1"/>
<line x1="115.9" y1="392.73" x2="115.9" y2="388.68" stroke="#2a2a2a" stroke-width="1.3"/>
<line x1="113.7" y1="388.68" x2="118.1" y2="388.68" stroke="#2a2a2a" stroke-width="1.3"/>
<rect x="112.9" y="392.73" width="6" height="7.77" fill="#a5122f"/>
<line x1="124.17" y1="347.38" x2="124.17" y2="340.74" stroke="#2a2a2a" stroke-width="1.3"/>
<line x1="121.97" y1="340.74" x2="126.37" y2="340.74" stroke="#2a2a2a" stroke-width="1.3"/>
<rect x="121.67" y="347.88" width="5" height="52.62" fill="#fff" stroke="#a0304e" stroke-width="1"/>
<line x1="132.44" y1="360.13" x2="132.44" y2="351.36" stroke="#2a2a2a" stroke-width="1.3"/>
<line x1="130.24" y1="351.36" x2="134.64" y2="351.36" stroke="#2a2a2a" stroke-width="1.3"/>
<rect x="129.44" y="360.13" width="6" height="40.37" fill="#27487c"/>
<line x1="140.71" y1="351.36" x2="140.71" y2="347.71" stroke="#2a2a2a" stroke-width="1.3"/>
<line x1="138.51" y1="347.71" x2="142.91" y2="347.71" stroke="#2a2a2a" stroke-width="1.3"/>
<rect x="138.21" y="351.86" width="5" height="48.64" fill="#fff" stroke="#4f5d8e" stroke-width="1"/>
<line x1="148.98" y1="371.02" x2="148.98" y2="355.35" stroke="#2a2a2a" stroke-width="1.3"/>
<line x1="146.78" y1="355.35" x2="151.18" y2="355.35" stroke="#2a2a2a" stroke-width="1.3"/>
<rect x="145.98" y="371.02" width="6" height="29.48" fill="#6cab3c"/>
<line x1="157.25" y1="349.7" x2="157.25" y2="347.38" stroke="#2a2a2a" stroke-width="1.3"/>
<line x1="155.05" y1="347.38" x2="159.45" y2="347.38" stroke="#2a2a2a" stroke-width="1.3"/>
<rect x="154.75" y="350.2" width="5" height="50.3" fill="#fff" stroke="#98bd72" stroke-width="1"/>
<line x1="136.57" y1="400.5" x2="136.57" y2="403.1" stroke="#050505" stroke-width="1.1"/>
<line x1="171.3" y1="380.38" x2="171.3" y2="375" stroke="#2a2a2a" stroke-width="1.3"/>
<line x1="169.1" y1="375" x2="173.5" y2="375" stroke="#2a2a2a" stroke-width="1.3"/>
<rect x="168.3" y="380.38" width="6" height="20.12" fill="#a5122f"/>
<line x1="179.57" y1="399.5" x2="179.57" y2="398.84" stroke="#2a2a2a" stroke-width="1.3"/>
<line x1="177.37" y1="398.84" x2="181.77" y2="398.84" stroke="#2a2a2a" stroke-width="1.3"/>
<rect x="177.07" y="400" width="5" height="0.5" fill="#fff" stroke="#a0304e" stroke-width="1"/>
<line x1="187.84" y1="397.98" x2="187.84" y2="396.18" stroke="#2a2a2a" stroke-width="1.3"/>
<line x1="185.64" y1="396.18" x2="190.04" y2="396.18" stroke="#2a2a2a" stroke-width="1.3"/>
<rect x="184.84" y="397.98" width="6" height="2.52" fill="#27487c"/>
<line x1="196.11" y1="398.71" x2="196.11" y2="397.84" stroke="#2a2a2a" stroke-width="1.3"/>
<line x1="193.91" y1="397.84" x2="198.31" y2="397.84" stroke="#2a2a2a" stroke-width="1.3"/>
<rect x="193.61" y="399.21" width="5" height="1.29" fill="#fff" stroke="#4f5d8e" stroke-width="1"/>
<line x1="204.38" y1="393.2" x2="204.38" y2="388.55" stroke="#2a2a2a" stroke-width="1.3"/>
<line x1="202.18" y1="388.55" x2="206.58" y2="388.55" stroke="#2a2a2a" stroke-width="1.3"/>
<rect x="201.38" y="393.2" width="6" height="7.3" fill="#6cab3c"/>
<line x1="212.65" y1="398.71" x2="212.65" y2="397.84" stroke="#2a2a2a" stroke-width="1.3"/>
<line x1="210.45" y1="397.84" x2="214.85" y2="397.84" stroke="#2a2a2a" stroke-width="1.3"/>
<rect x="210.15" y="399.21" width="5" height="1.29" fill="#fff" stroke="#98bd72" stroke-width="1"/>
<line x1="191.98" y1="400.5" x2="191.98" y2="403.1" stroke="#050505" stroke-width="1.1"/>
<text x="80.67" y="413.7" font-size="7.9" text-anchor="middle" fill="#1a1a1a">B220+</text>
<text x="136.57" y="413.7" font-size="7.9" text-anchor="middle" fill="#1a1a1a">GR1/MAC1+</text>
<text x="191.98" y="413.7" font-size="7.9" text-anchor="middle" fill="#1a1a1a">CD3+</text>
<line x1="52.1" y1="400.5" x2="219.1" y2="400.5" stroke="#050505" stroke-width="1.4"/>
<polyline points="59.8,356.7 59.8,351.2 68.2,351.2 68.2,382" fill="none" stroke="#1c1c1c" stroke-width="1.2"/>
<circle cx="58.15" cy="347.4" r="1.15" fill="#151515"/>
<circle cx="61.85" cy="347.4" r="1.15" fill="#151515"/>
<circle cx="65.55" cy="347.4" r="1.15" fill="#151515"/>
<circle cx="69.25" cy="347.4" r="1.15" fill="#151515"/>
<polyline points="115.4,385.5 115.4,333.7 124,333.7 124,337.5" fill="none" stroke="#1c1c1c" stroke-width="1.2"/>
<circle cx="113.95" cy="329.9" r="1.15" fill="#151515"/>
<circle cx="117.65" cy="329.9" r="1.15" fill="#151515"/>
<circle cx="121.35" cy="329.9" r="1.15" fill="#151515"/>
<circle cx="125.05" cy="329.9" r="1.15" fill="#151515"/>
<polyline points="170.8,372.4 170.8,367.6 179.5,367.6 179.5,396.5" fill="none" stroke="#1c1c1c" stroke-width="1.2"/>
<circle cx="169.45" cy="363.7" r="1.15" fill="#151515"/>
<circle cx="173.15" cy="363.7" r="1.15" fill="#151515"/>
<circle cx="176.85" cy="363.7" r="1.15" fill="#151515"/>
<circle cx="180.55" cy="363.7" r="1.15" fill="#151515"/>
<text x="283.6" y="321.4" font-size="9.85" text-anchor="start" font-weight="bold" fill="#1a1a1a">Lineage: BM (absolute count)</text>
<line x1="276.6" y1="400.9" x2="276.6" y2="329.6" stroke="#050505" stroke-width="1.45"/>
<line x1="273.6" y1="400.3" x2="276.6" y2="400.3" stroke="#050505" stroke-width="1.1"/>
<text x="270.3" y="403.04" font-size="7.6" text-anchor="end" fill="#1a1a1a">0</text>
<line x1="273.6" y1="386.82" x2="276.6" y2="386.82" stroke="#050505" stroke-width="1.1"/>
<text transform="translate(270.3 389.56) scale(1 1)" font-size="7.6" text-anchor="end" fill="#1a1a1a">1x10<tspan dy="-2.8" font-size="5" dx="0.3">7</tspan></text>
<line x1="273.6" y1="373.34" x2="276.6" y2="373.34" stroke="#050505" stroke-width="1.1"/>
<text transform="translate(270.3 376.08) scale(1 1)" font-size="7.6" text-anchor="end" fill="#1a1a1a">2x10<tspan dy="-2.8" font-size="5" dx="0.3">7</tspan></text>
<line x1="273.6" y1="359.86" x2="276.6" y2="359.86" stroke="#050505" stroke-width="1.1"/>
<text transform="translate(270.3 362.6) scale(1 1)" font-size="7.6" text-anchor="end" fill="#1a1a1a">3x10<tspan dy="-2.8" font-size="5" dx="0.3">7</tspan></text>
<line x1="273.6" y1="346.38" x2="276.6" y2="346.38" stroke="#050505" stroke-width="1.1"/>
<text transform="translate(270.3 349.12) scale(1 1)" font-size="7.6" text-anchor="end" fill="#1a1a1a">4x10<tspan dy="-2.8" font-size="5" dx="0.3">7</tspan></text>
<line x1="273.6" y1="332.9" x2="276.6" y2="332.9" stroke="#050505" stroke-width="1.1"/>
<text transform="translate(270.3 335.64) scale(1 1)" font-size="7.6" text-anchor="end" fill="#1a1a1a">5x10<tspan dy="-2.8" font-size="5" dx="0.3">7</tspan></text>
<text x="0" y="0" font-size="8.8" text-anchor="middle" fill="#1a1a1a" transform="translate(243.5 365) rotate(-90)">Absolute cell count</text>
<line x1="291.7" y1="393.16" x2="291.7" y2="390.32" stroke="#2a2a2a" stroke-width="1.3"/>
<line x1="289.5" y1="390.32" x2="293.9" y2="390.32" stroke="#2a2a2a" stroke-width="1.3"/>
<rect x="289.05" y="393.66" width="5.3" height="6.64" fill="#fff" stroke="#a0304e" stroke-width="1"/>
<line x1="300.15" y1="393.16" x2="300.15" y2="385.74" stroke="#2a2a2a" stroke-width="1.3"/>
<line x1="297.95" y1="385.74" x2="302.35" y2="385.74" stroke="#2a2a2a" stroke-width="1.3"/>
<rect x="297" y="393.16" width="6.3" height="7.14" fill="#27487c"/>
<line x1="308.6" y1="391.94" x2="308.6" y2="389.52" stroke="#2a2a2a" stroke-width="1.3"/>
<line x1="306.4" y1="389.52" x2="310.8" y2="389.52" stroke="#2a2a2a" stroke-width="1.3"/>
<rect x="305.95" y="392.44" width="5.3" height="7.86" fill="#fff" stroke="#4f5d8e" stroke-width="1"/>
<line x1="317.05" y1="395.18" x2="317.05" y2="388.71" stroke="#2a2a2a" stroke-width="1.3"/>
<line x1="314.85" y1="388.71" x2="319.25" y2="388.71" stroke="#2a2a2a" stroke-width="1.3"/>
<rect x="313.9" y="395.18" width="6.3" height="5.12" fill="#6cab3c"/>
<line x1="325.5" y1="392.35" x2="325.5" y2="386.82" stroke="#2a2a2a" stroke-width="1.3"/>
<line x1="323.3" y1="386.82" x2="327.7" y2="386.82" stroke="#2a2a2a" stroke-width="1.3"/>
<rect x="322.85" y="392.85" width="5.3" height="7.45" fill="#fff" stroke="#98bd72" stroke-width="1"/>
<line x1="304.38" y1="400.3" x2="304.38" y2="402.9" stroke="#050505" stroke-width="1.1"/>
<line x1="348.1" y1="363.23" x2="348.1" y2="343.14" stroke="#2a2a2a" stroke-width="1.3"/>
<line x1="345.9" y1="343.14" x2="350.3" y2="343.14" stroke="#2a2a2a" stroke-width="1.3"/>
<rect x="345.45" y="363.73" width="5.3" height="36.57" fill="#fff" stroke="#a0304e" stroke-width="1"/>
<line x1="356.55" y1="383.32" x2="356.55" y2="368.62" stroke="#2a2a2a" stroke-width="1.3"/>
<line x1="354.35" y1="368.62" x2="358.75" y2="368.62" stroke="#2a2a2a" stroke-width="1.3"/>
<rect x="353.4" y="383.32" width="6.3" height="16.98" fill="#27487c"/>
<line x1="365" y1="366.06" x2="365" y2="358.51" stroke="#2a2a2a" stroke-width="1.3"/>
<line x1="362.8" y1="358.51" x2="367.2" y2="358.51" stroke="#2a2a2a" stroke-width="1.3"/>
<rect x="362.35" y="366.56" width="5.3" height="33.74" fill="#fff" stroke="#4f5d8e" stroke-width="1"/>
<line x1="373.45" y1="393.96" x2="373.45" y2="389.52" stroke="#2a2a2a" stroke-width="1.3"/>
<line x1="371.25" y1="389.52" x2="375.65" y2="389.52" stroke="#2a2a2a" stroke-width="1.3"/>
<rect x="370.3" y="393.96" width="6.3" height="6.34" fill="#6cab3c"/>
<line x1="381.9" y1="367.27" x2="381.9" y2="353.12" stroke="#2a2a2a" stroke-width="1.3"/>
<line x1="379.7" y1="353.12" x2="384.1" y2="353.12" stroke="#2a2a2a" stroke-width="1.3"/>
<rect x="379.25" y="367.77" width="5.3" height="32.53" fill="#fff" stroke="#98bd72" stroke-width="1"/>
<line x1="360.77" y1="400.3" x2="360.77" y2="402.9" stroke="#050505" stroke-width="1.1"/>
<line x1="416.67" y1="400.3" x2="416.67" y2="402.9" stroke="#050505" stroke-width="1.1"/>
<text x="304.38" y="413.8" font-size="7.9" text-anchor="middle" fill="#1a1a1a">B220+</text>
<text x="360.77" y="413.8" font-size="7.9" text-anchor="middle" fill="#1a1a1a">GR1/MAC1+</text>
<text x="416.67" y="413.8" font-size="7.9" text-anchor="middle" fill="#1a1a1a">CD3+</text>
<line x1="275.9" y1="400.3" x2="444.7" y2="400.3" stroke="#050505" stroke-width="1.4"/>
<path d="M401.3,400.6 Q404,396.1 406.7,400.6 Z" fill="#1a1a1a"/>
<path d="M410.3,400.6 Q413,396.1 415.7,400.6 Z" fill="#1a1a1a"/>
<path d="M418.4,400.6 Q421.1,396.1 423.8,400.6 Z" fill="#2a3a6a"/>
<path d="M427,400.6 Q429.7,396.1 432.4,400.6 Z" fill="#1a1a1a"/>
<path d="M435.3,400.6 Q438,396.1 440.7,400.6 Z" fill="#1a1a1a"/>
<polyline points="283.1,398.4 283.1,386.1 291.2,386.1 291.2,388.8" fill="none" stroke="#1c1c1c" stroke-width="1.2"/>
<circle cx="281.45" cy="382" r="1.15" fill="#151515"/>
<circle cx="285.15" cy="382" r="1.15" fill="#151515"/>
<circle cx="288.85" cy="382" r="1.15" fill="#151515"/>
<circle cx="292.55" cy="382" r="1.15" fill="#151515"/>
<polyline points="339.2,398.4 339.2,339.1 348,339.1 348,341.5" fill="none" stroke="#1c1c1c" stroke-width="1.2"/>
<circle cx="337.65" cy="335.4" r="1.15" fill="#151515"/>
<circle cx="341.35" cy="335.4" r="1.15" fill="#151515"/>
<circle cx="345.05" cy="335.4" r="1.15" fill="#151515"/>
<circle cx="348.75" cy="335.4" r="1.15" fill="#151515"/>
<polyline points="404.9,397.8 404.9,392.2 413.3,392.2 413.3,397.8" fill="none" stroke="#1c1c1c" stroke-width="1.2"/>
<circle cx="405.95" cy="389.3" r="1.15" fill="#151515"/>
<circle cx="409.65" cy="389.3" r="1.15" fill="#151515"/>
<rect x="421.2" y="330.3" width="11" height="6" fill="#a5122f"/>
<text transform="translate(435.2 336.2) scale(1 1.1)" font-size="7.75" fill="#1a1a1a"><tspan font-style="italic">Mx1-cre; Mof</tspan><tspan font-style="italic" font-size="4.8" dy="-3.2" dx="1.4">f/f</tspan><tspan dy="3.2">, pIpC+</tspan></text>
<rect x="421.7" y="340.4" width="10" height="5" fill="#fff" stroke="#9b2a4a" stroke-width="1"/>
<text transform="translate(435.2 345.8) scale(1 1.1)" font-size="7.75" fill="#1a1a1a"><tspan font-style="italic">Mx1-cre; Mof</tspan><tspan font-style="italic" font-size="4.8" dy="-3.2" dx="1.4">f/f</tspan></text>
<rect x="421.2" y="349.5" width="11" height="6" fill="#27487c"/>
<text transform="translate(435.2 355.4) scale(1 1.1)" font-size="7.75" fill="#1a1a1a"><tspan font-style="italic">Mx1-cre</tspan>, pIpC+</text>
<rect x="421.7" y="359.6" width="10" height="5" fill="#fff" stroke="#3c5585" stroke-width="1"/>
<text transform="translate(435.2 365) scale(1 1.1)" font-size="7.75" fill="#1a1a1a"><tspan font-style="italic">Mx1-cre</tspan></text>
<rect x="421.2" y="368.7" width="11" height="6" fill="#6cab3c"/>
<text transform="translate(435.2 374.6) scale(1 1.1)" font-size="7.75" fill="#1a1a1a"><tspan font-style="italic">Mof</tspan><tspan font-style="italic" font-size="4.8" dy="-3.2" dx="1.4">f/f</tspan><tspan dy="3.2">, pIpC+</tspan></text>
<rect x="421.7" y="378.8" width="10" height="5" fill="#fff" stroke="#98bd72" stroke-width="1"/>
<text transform="translate(435.2 384.2) scale(1 1.1)" font-size="7.75" fill="#1a1a1a"><tspan font-style="italic">Mof</tspan><tspan font-style="italic" font-size="4.8" dy="-3.2" dx="1.4">f/f</tspan></text>
<defs>
<radialGradient id="gP" cx="0.45" cy="0.4" r="0.6"><stop offset="0" stop-color="#b77ccc"/><stop offset="0.6" stop-color="#8a3fa4"/><stop offset="1" stop-color="#4a1560"/></radialGradient>
<radialGradient id="gM" cx="0.45" cy="0.4" r="0.6"><stop offset="0" stop-color="#d070c0"/><stop offset="0.6" stop-color="#a04098"/><stop offset="1" stop-color="#5a1858"/></radialGradient>
<radialGradient id="gB" cx="0.45" cy="0.45" r="0.6"><stop offset="0" stop-color="#9a9ae8"/><stop offset="0.5" stop-color="#4a58a8"/><stop offset="1" stop-color="#2a3a80"/></radialGradient>
<radialGradient id="gT" cx="0.45" cy="0.45" r="0.6"><stop offset="0" stop-color="#6a8ac0"/><stop offset="0.6" stop-color="#2a5a6a"/><stop offset="1" stop-color="#1a3a3a"/></radialGradient>
<radialGradient id="gPB" cx="0.5" cy="0.5" r="0.6"><stop offset="0" stop-color="#6a70d0"/><stop offset="0.45" stop-color="#8a40a8"/><stop offset="1" stop-color="#4a1560"/></radialGradient>
<linearGradient id="gBody" x1="0" y1="0" x2="0.3" y2="1"><stop offset="0" stop-color="#302b2b"/><stop offset="0.65" stop-color="#262020"/><stop offset="1" stop-color="#3a2a22"/></linearGradient>

</defs>
<path d="M35.9,22.9 C26.5,27 19.3,37.5 20.8,46.5 C21.8,51.8 25.6,54.8 30.2,55.6" fill="none" stroke="#111" stroke-width="1.3" stroke-linecap="round"/>
<g transform="translate(0 0)">
<path d="M28.6,53 C28.5,45 35,39.9 45,39.7 C53,39.6 58,41 62,43.5 C67,45.5 73,49 77.5,51.8 C79.5,53 80.6,54.3 80,55.6 C79,57.5 76.5,59.5 73.6,60.3 C71.5,61 70,61.5 69,62 L69.3,63.5 C67,64.4 63.5,64.3 62,63.1 C58,63.1 53,63.4 50,63.9 L49.9,66 C49.7,68.6 47.4,69.5 44,68.8 L43.8,66.4 C42.3,66.6 41.2,66.6 40.2,66.5 C39.6,68.3 36,68.7 33.5,67.7 C32.6,67.1 33.2,66 34.5,65.6 C31,64 28.8,59.5 28.6,55 Z" fill="url(#gBody)" stroke="#0d0b0b" stroke-width="0.7" stroke-linejoin="round"/>
<path d="M41.6,65.8 C41,60.5 43.5,56.8 48.2,55.6" fill="none" stroke="#4a4242" stroke-width="0.6"/>
<path d="M62,63 C61,61.5 62,60.5 64,60.3" fill="none" stroke="#4a4242" stroke-width="0.5"/>
<ellipse cx="58.3" cy="47.3" rx="3.5" ry="3.4" fill="#3e3939" stroke="#111" stroke-width="0.5"/>
<ellipse cx="65.4" cy="43.2" rx="2.5" ry="3.6" transform="rotate(-18 65.4 43.2)" fill="#2b2626" stroke="#0d0b0b" stroke-width="0.6"/>
<circle cx="73" cy="50.6" r="0.55" fill="#000"/>
<path d="M78.2,52.5 L75.2,45.6 M78.4,52.4 L77.4,44.6 M78.7,52.5 L79.8,44.8 M78.9,52.7 L81.6,46.4 M79,53 L82.4,49.2" stroke="#8a8a8a" stroke-width="0.6" fill="none"/>
</g>
<path d="M35.9,88.4 C26.5,92.5 19.3,103 20.8,112 C21.8,117.3 25.6,120.3 30.2,121.1" fill="none" stroke="#111" stroke-width="1.3" stroke-linecap="round"/>
<g transform="translate(0 65.5)">
<path d="M28.6,53 C28.5,45 35,39.9 45,39.7 C53,39.6 58,41 62,43.5 C67,45.5 73,49 77.5,51.8 C79.5,53 80.6,54.3 80,55.6 C79,57.5 76.5,59.5 73.6,60.3 C71.5,61 70,61.5 69,62 L69.3,63.5 C67,64.4 63.5,64.3 62,63.1 C58,63.1 53,63.4 50,63.9 L49.9,66 C49.7,68.6 47.4,69.5 44,68.8 L43.8,66.4 C42.3,66.6 41.2,66.6 40.2,66.5 C39.6,68.3 36,68.7 33.5,67.7 C32.6,67.1 33.2,66 34.5,65.6 C31,64 28.8,59.5 28.6,55 Z" fill="url(#gBody)" stroke="#0d0b0b" stroke-width="0.7" stroke-linejoin="round"/>
<path d="M41.6,65.8 C41,60.5 43.5,56.8 48.2,55.6" fill="none" stroke="#4a4242" stroke-width="0.6"/>
<path d="M62,63 C61,61.5 62,60.5 64,60.3" fill="none" stroke="#4a4242" stroke-width="0.5"/>
<ellipse cx="58.3" cy="47.3" rx="3.5" ry="3.4" fill="#3e3939" stroke="#111" stroke-width="0.5"/>
<ellipse cx="65.4" cy="43.2" rx="2.5" ry="3.6" transform="rotate(-18 65.4 43.2)" fill="#2b2626" stroke="#0d0b0b" stroke-width="0.6"/>
<circle cx="73" cy="50.6" r="0.55" fill="#000"/>
<path d="M78.2,52.5 L75.2,45.6 M78.4,52.4 L77.4,44.6 M78.7,52.5 L79.8,44.8 M78.9,52.7 L81.6,46.4 M79,53 L82.4,49.2" stroke="#8a8a8a" stroke-width="0.6" fill="none"/>
</g>
<path d="M201.5,83.2 C212,81.2 224,81.3 236.2,81.8 L236.2,82.4 C224,82.2 212,83.8 201.5,86.2 Z" fill="#1a1616"/>
<g transform="matrix(-0.75 0 0 0.75 225 42.15)">
<path d="M28.6,53 C28.5,45 35,39.9 45,39.7 C53,39.6 58,41 62,43.5 C67,45.5 73,49 77.5,51.8 C79.5,53 80.6,54.3 80,55.6 C79,57.5 76.5,59.5 73.6,60.3 C71.5,61 70,61.5 69,62 L69.3,63.5 C67,64.4 63.5,64.3 62,63.1 C58,63.1 53,63.4 50,63.9 L49.9,66 C49.7,68.6 47.4,69.5 44,68.8 L43.8,66.4 C42.3,66.6 41.2,66.6 40.2,66.5 C39.6,68.3 36,68.7 33.5,67.7 C32.6,67.1 33.2,66 34.5,65.6 C31,64 28.8,59.5 28.6,55 Z" fill="url(#gBody)" stroke="#0d0b0b" stroke-width="0.7" stroke-linejoin="round"/>
<path d="M41.6,65.8 C41,60.5 43.5,56.8 48.2,55.6" fill="none" stroke="#4a4242" stroke-width="0.6"/>
<path d="M62,63 C61,61.5 62,60.5 64,60.3" fill="none" stroke="#4a4242" stroke-width="0.5"/>
<ellipse cx="58.3" cy="47.3" rx="3.5" ry="3.4" fill="#3e3939" stroke="#111" stroke-width="0.5"/>
<ellipse cx="65.4" cy="43.2" rx="2.5" ry="3.6" transform="rotate(-18 65.4 43.2)" fill="#2b2626" stroke="#0d0b0b" stroke-width="0.6"/>
<circle cx="73" cy="50.6" r="0.55" fill="#000"/>
<path d="M78.2,52.5 L75.2,45.6 M78.4,52.4 L77.4,44.6 M78.7,52.5 L79.8,44.8 M78.9,52.7 L81.6,46.4 M79,53 L82.4,49.2" stroke="#8a8a8a" stroke-width="0.6" fill="none"/>
</g>
<path d="M201.5,142.7 C212,140.7 224,140.8 236.2,141.3 L236.2,141.9 C224,141.7 212,143.3 201.5,145.7 Z" fill="#1a1616"/>
<g transform="matrix(-0.75 0 0 0.75 225 101.65)">
<path d="M28.6,53 C28.5,45 35,39.9 45,39.7 C53,39.6 58,41 62,43.5 C67,45.5 73,49 77.5,51.8 C79.5,53 80.6,54.3 80,55.6 C79,57.5 76.5,59.5 73.6,60.3 C71.5,61 70,61.5 69,62 L69.3,63.5 C67,64.4 63.5,64.3 62,63.1 C58,63.1 53,63.4 50,63.9 L49.9,66 C49.7,68.6 47.4,69.5 44,68.8 L43.8,66.4 C42.3,66.6 41.2,66.6 40.2,66.5 C39.6,68.3 36,68.7 33.5,67.7 C32.6,67.1 33.2,66 34.5,65.6 C31,64 28.8,59.5 28.6,55 Z" fill="url(#gBody)" stroke="#0d0b0b" stroke-width="0.7" stroke-linejoin="round"/>
<path d="M41.6,65.8 C41,60.5 43.5,56.8 48.2,55.6" fill="none" stroke="#4a4242" stroke-width="0.6"/>
<path d="M62,63 C61,61.5 62,60.5 64,60.3" fill="none" stroke="#4a4242" stroke-width="0.5"/>
<ellipse cx="58.3" cy="47.3" rx="3.5" ry="3.4" fill="#3e3939" stroke="#111" stroke-width="0.5"/>
<ellipse cx="65.4" cy="43.2" rx="2.5" ry="3.6" transform="rotate(-18 65.4 43.2)" fill="#2b2626" stroke="#0d0b0b" stroke-width="0.6"/>
<circle cx="73" cy="50.6" r="0.55" fill="#000"/>
<path d="M78.2,52.5 L75.2,45.6 M78.4,52.4 L77.4,44.6 M78.7,52.5 L79.8,44.8 M78.9,52.7 L81.6,46.4 M79,53 L82.4,49.2" stroke="#8a8a8a" stroke-width="0.6" fill="none"/>
</g>
<circle cx="203.8" cy="70.5" r="3.9" fill="#e2bd1e" stroke="#3a3000" stroke-width="0.6"/>
<path d="M203.3,69.63 L202.25,67.82 A3.1,3.1 0 0 1 205.35,67.82 L204.3,69.63 A1,1 0 0 0 203.3,69.63 Z" fill="#1a1a10"/>
<path d="M204.8,70.5 L206.9,70.5 A3.1,3.1 0 0 1 205.35,73.18 L204.3,71.37 A1,1 0 0 0 204.8,70.5 Z" fill="#1a1a10"/>
<path d="M203.3,71.37 L202.25,73.18 A3.1,3.1 0 0 1 200.7,70.5 L202.8,70.5 A1,1 0 0 0 203.3,71.37 Z" fill="#1a1a10"/>
<circle cx="203.8" cy="70.5" r="0.7" fill="#1a1a10"/>
<g transform="translate(97.8 42.8) rotate(55.16)"><rect x="1" y="-0.8" width="22.86" height="1.6" fill="#000" stroke="#000" stroke-width="1.3"/><circle cx="0.9" cy="-1.25" r="1.2" fill="#000" stroke="#000" stroke-width="1.3"/><circle cx="0.9" cy="1.25" r="1.2" fill="#000" stroke="#000" stroke-width="1.3"/><circle cx="23.96" cy="-1.25" r="1.2" fill="#000" stroke="#000" stroke-width="1.3"/><circle cx="23.96" cy="1.25" r="1.2" fill="#000" stroke="#000" stroke-width="1.3"/><rect x="1" y="-0.8" width="22.86" height="1.6" fill="#fff"/><circle cx="0.9" cy="-1.25" r="1.2" fill="#fff"/><circle cx="0.9" cy="1.25" r="1.2" fill="#fff"/><circle cx="23.96" cy="-1.25" r="1.2" fill="#fff"/><circle cx="23.96" cy="1.25" r="1.2" fill="#fff"/></g>
<g transform="translate(97.8 108.3) rotate(55.16)"><rect x="1" y="-0.8" width="22.86" height="1.6" fill="#000" stroke="#000" stroke-width="1.3"/><circle cx="0.9" cy="-1.25" r="1.2" fill="#000" stroke="#000" stroke-width="1.3"/><circle cx="0.9" cy="1.25" r="1.2" fill="#000" stroke="#000" stroke-width="1.3"/><circle cx="23.96" cy="-1.25" r="1.2" fill="#000" stroke="#000" stroke-width="1.3"/><circle cx="23.96" cy="1.25" r="1.2" fill="#000" stroke="#000" stroke-width="1.3"/><rect x="1" y="-0.8" width="22.86" height="1.6" fill="#fff"/><circle cx="0.9" cy="-1.25" r="1.2" fill="#fff"/><circle cx="0.9" cy="1.25" r="1.2" fill="#fff"/><circle cx="23.96" cy="-1.25" r="1.2" fill="#fff"/><circle cx="23.96" cy="1.25" r="1.2" fill="#fff"/></g>
<g transform="translate(255.6 150.8) rotate(-56.78)"><rect x="1" y="-0.8" width="18.08" height="1.6" fill="#000" stroke="#000" stroke-width="1.3"/><circle cx="0.9" cy="-1.25" r="1.15" fill="#000" stroke="#000" stroke-width="1.3"/><circle cx="0.9" cy="1.25" r="1.15" fill="#000" stroke="#000" stroke-width="1.3"/><circle cx="19.18" cy="-1.25" r="1.15" fill="#000" stroke="#000" stroke-width="1.3"/><circle cx="19.18" cy="1.25" r="1.15" fill="#000" stroke="#000" stroke-width="1.3"/><rect x="1" y="-0.8" width="18.08" height="1.6" fill="#fff"/><circle cx="0.9" cy="-1.25" r="1.15" fill="#fff"/><circle cx="0.9" cy="1.25" r="1.15" fill="#fff"/><circle cx="19.18" cy="-1.25" r="1.15" fill="#fff"/><circle cx="19.18" cy="1.25" r="1.15" fill="#fff"/></g>
<circle cx="139" cy="43.6" r="3.5" fill="url(#gP)" stroke="#4a1660" stroke-width="0.8"/>
<circle cx="133" cy="47" r="2.1" fill="url(#gT)" stroke="#3d8a40" stroke-width="0.8"/>
<circle cx="140.1" cy="50" r="3.6" fill="url(#gPB)" stroke="#4a1660" stroke-width="0.8"/>
<circle cx="130.7" cy="51.9" r="3" fill="url(#gB)" stroke="#4a9040" stroke-width="0.8"/>
<circle cx="143.2" cy="55.7" r="1.9" fill="url(#gT)" stroke="#2f6a40" stroke-width="0.8"/>
<circle cx="136.7" cy="58.3" r="3.4" fill="url(#gP)" stroke="#4a1660" stroke-width="0.8"/>
<circle cx="133" cy="62.5" r="2.4" fill="url(#gM)" stroke="#5a1a58" stroke-width="0.8"/>
<circle cx="139" cy="109.1" r="3.5" fill="url(#gP)" stroke="#4a1660" stroke-width="0.8"/>
<circle cx="133" cy="112.5" r="2.1" fill="url(#gT)" stroke="#3d8a40" stroke-width="0.8"/>
<circle cx="140.1" cy="115.5" r="3.6" fill="url(#gPB)" stroke="#4a1660" stroke-width="0.8"/>
<circle cx="130.7" cy="117.4" r="3" fill="url(#gB)" stroke="#4a9040" stroke-width="0.8"/>
<circle cx="143.2" cy="121.2" r="1.9" fill="url(#gT)" stroke="#2f6a40" stroke-width="0.8"/>
<circle cx="136.7" cy="123.8" r="3.4" fill="url(#gP)" stroke="#4a1660" stroke-width="0.8"/>
<circle cx="133" cy="128" r="2.4" fill="url(#gM)" stroke="#5a1a58" stroke-width="0.8"/>
<line x1="85.4" y1="54.6" x2="92.8" y2="54.6" stroke="#111" stroke-width="1"/>
<path d="M96.4,54.6 L92.5,56.7 L92.5,52.5 Z" fill="#111"/>
<line x1="112.4" y1="54.6" x2="120.4" y2="54.6" stroke="#111" stroke-width="1"/>
<path d="M124,54.6 L120.1,56.7 L120.1,52.5 Z" fill="#111"/>
<line x1="85.4" y1="120.1" x2="92.8" y2="120.1" stroke="#111" stroke-width="1"/>
<path d="M96.4,120.1 L92.5,122.2 L92.5,118 Z" fill="#111"/>
<line x1="112.4" y1="120.1" x2="120.4" y2="120.1" stroke="#111" stroke-width="1"/>
<path d="M124,120.1 L120.1,122.2 L120.1,118 Z" fill="#111"/>
<line x1="150" y1="58" x2="159.27" y2="66.59" stroke="#111" stroke-width="1.3"/>
<path d="M163.6,70.6 L157.08,68.51 L161.02,64.26 Z" fill="#111"/>
<line x1="150.6" y1="110.2" x2="159.26" y2="102.2" stroke="#111" stroke-width="1.3"/>
<path d="M163.6,98.2 L161.01,104.54 L157.08,100.27 Z" fill="#111"/>
<line x1="190.3" y1="104.8" x2="190.3" y2="124.7" stroke="#111" stroke-width="1.3"/>
<path d="M190.3,131.6 L187.3,124.4 L193.3,124.4 Z" fill="#111"/>
<line x1="234.8" y1="140.2" x2="253.4" y2="140.2" stroke="#111" stroke-width="1.7"/>
<path d="M259.3,140.2 L253.1,143.4 L253.1,137 Z" fill="#111"/>
<line x1="204.5" y1="136.3" x2="223.6" y2="118.4" stroke="#a8a8a8" stroke-width="0.9"/>
<text x="113.5" y="30.1" font-size="9.7" text-anchor="start" font-weight="bold" fill="#1a1a1a">whole BM</text>
<text x="38.4" y="78.8" font-size="7.7" font-style="italic" fill="#1a1a1a">Mx1-cre; Mof<tspan font-size="4.8" dy="-3.4" dx="1.6">f/f</tspan></text>
<text x="38.4" y="87.6" font-size="7.7" text-anchor="start" font-style="italic" fill="#1a1a1a">Mx1-cre</text>
<text x="38.4" y="97.0" font-size="7.7" font-style="italic" fill="#1a1a1a">Mof<tspan font-size="4.8" dy="-3.4" dx="1.6">f/f</tspan></text>
<text x="119.2" y="78.6" font-size="7.65" text-anchor="start" fill="#1a1a1a">1,000,000</text>
<text x="119.2" y="143.6" font-size="7.65" text-anchor="start" fill="#1a1a1a">1,000,000</text>
<text x="38" y="143.8" font-size="7.65" text-anchor="start" fill="#1a1a1a">B6.SJL (CD45.1)</text>
<text x="170.5" y="101.6" font-size="7.65" text-anchor="start" fill="#1a1a1a">B6.SJL (CD45.1)</text>
<text x="0" y="0" font-size="5.9" text-anchor="middle" fill="#1a1a1a" transform="translate(186.2 115) rotate(-90)">16 wks</text>
<text x="215.6" y="133.7" font-size="7.7" text-anchor="start" fill="#1a1a1a">pIpC</text>
<text x="235" y="135.4" font-size="6.6" text-anchor="start" fill="#1a1a1a">2 wks</text>
</svg>
</body></html>
